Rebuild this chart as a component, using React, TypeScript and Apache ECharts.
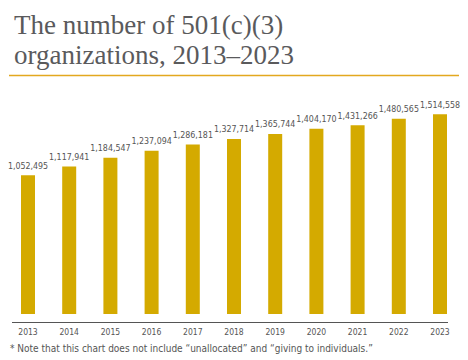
import React, { useEffect, useRef } from "react";
import * as echarts from "echarts";

const years = ["2013", "2014", "2015", "2016", "2017", "2018", "2019", "2020", "2021", "2022", "2023"];
const orgCounts = [1052495, 1117941, 1184547, 1237094, 1286181, 1327714, 1365744, 1404170, 1431266, 1480565, 1514558];
const titleText = "The number of 501(c)(3)\norganizations, 2013\u20132023";
const footnote = "* Note that this chart does not include \u201Cunallocated\u201D and \u201Cgiving to individuals.\u201D";

const narrow = "'DejaVu Sans Condensed', 'DejaVu Sans', sans-serif";

export default function App() {
  const ref = useRef<HTMLDivElement>(null);
  useEffect(() => {
    if (!ref.current) return;
    const chart = echarts.init(ref.current, null, { renderer: "svg" });
    chart.setOption({
      animation: false,
      backgroundColor: "#ffffff",
      title: {
        text: titleText,
        left: 9,
        top: 5,
        textStyle: {
          fontFamily: "'Liberation Serif', 'DejaVu Serif', serif",
          fontSize: 27,
          lineHeight: 30,
          fontWeight: "normal",
          color: "#5a5a5c",
        },
      },
      graphic: [
        {
          type: "line",
          shape: { x1: 9, y1: 75.5, x2: 459, y2: 75.5 },
          style: { stroke: "#e3a81f", lineWidth: 1.5 },
        },
        {
          type: "line",
          shape: { x1: 12, y1: 322.5, x2: 448, y2: 322.5 },
          style: { stroke: "#555555", lineWidth: 1 },
        },
        {
          type: "text",
          left: 10,
          top: 343,
          style: {
            text: footnote,
            fontFamily: narrow,
            fontSize: 10,
            fill: "#555555",
          },
        },
      ],
      grid: { left: 7.4, right: 7.4, top: 103, bottom: 46 },
      xAxis: {
        type: "category",
        data: years,
        axisLine: { show: false },
        axisTick: { show: false },
        axisLabel: {
          margin: 13,
          fontFamily: narrow,
          fontSize: 8.5,
          color: "#555555",
        },
      },
      yAxis: {
        type: "value",
        min: 0,
        max: 1600000,
        show: false,
        splitLine: { show: false },
      },
      series: [
        {
          type: "bar",
          data: orgCounts,
          barWidth: 14,
          itemStyle: { color: "#d4aa00" },
          label: {
            show: true,
            position: "top",
            distance: 5,
            fontFamily: narrow,
            fontSize: 8.8,
            color: "#555555",
            formatter: (p: any) => Number(p.value).toLocaleString("en-US"),
          },
        },
      ],
    });
    return () => chart.dispose();
  }, []);
  return <div ref={ref} style={{ width: 468, height: 360, position: "absolute", left: 0, top: 0 }} />;
}
